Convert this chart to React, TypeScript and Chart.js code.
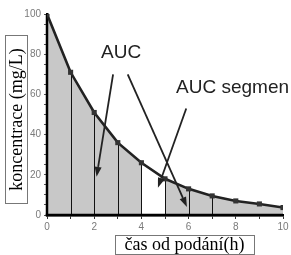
import React, { useEffect, useRef } from "react";
import { Chart, registerables } from "chart.js";

Chart.register(...registerables);

// ---- data ----
const times = [0, 1, 2, 3, 4, 5, 6, 7, 8, 9, 10];
const concentrations = [100, 71, 51, 36, 26, 18, 13, 9.5, 7, 5.5, 3.7];
const shadedRanges = [
  [0, 4],
  [5, 10],
];
const dividerTimes = [1, 2, 3, 4, 5, 6, 7];
const xTickLabels = [0, 2, 4, 6, 8, 10];
const yTickLabels = [0, 20, 40, 60, 80, 100];
const yTitle = "koncentrace (mg/L)";
const xTitle = "čas od podání(h)";
const labelAUC = "AUC";
const labelSegment = "AUC segmen";

const points = times.map((t, i) => ({ x: t, y: concentrations[i] }));
const shadedData = shadedRanges.map(([a, b]) => points.filter((p) => p.x >= a && p.x <= b));

// annotation geometry in data units
const textLabels = [
  { text: labelAUC, x: 3.14, y: 78, align: "center" as CanvasTextAlign },
  { text: labelSegment, x: 5.47, y: 60.7, align: "left" as CanvasTextAlign },
];
const arrows = [
  { from: [2.8, 70], to: [2.1, 19] },
  { from: [3.42, 70], to: [5.93, 4] },
  { from: [5.9, 53], to: [4.7, 13.5] },
];

const annotationPlugin = {
  id: "annotations",
  afterDatasetDraw(chart: any, args: any) {
    if (args.index !== 1) return;
    const { ctx, scales } = chart;
    const xs = scales.x;
    const ys = scales.y;
    ctx.save();
    ctx.strokeStyle = "#111";
    ctx.lineWidth = 1;
    dividerTimes.forEach((t) => {
      const i = times.indexOf(t);
      const px = Math.round(xs.getPixelForValue(t)) + 0.5;
      ctx.beginPath();
      ctx.moveTo(px, ys.getPixelForValue(0));
      ctx.lineTo(px, ys.getPixelForValue(concentrations[i]));
      ctx.stroke();
    });
    // axis lines on top of the fill
    const x0 = xs.getPixelForValue(0);
    const y0 = ys.getPixelForValue(0);
    ctx.strokeStyle = "#000";
    ctx.lineWidth = 2.5;
    ctx.beginPath();
    ctx.moveTo(x0 - 1.25, y0);
    ctx.lineTo(xs.getPixelForValue(10), y0);
    ctx.stroke();
    ctx.beginPath();
    ctx.moveTo(x0, ys.getPixelForValue(100));
    ctx.lineTo(x0, y0 + 1.25);
    ctx.stroke();
    ctx.restore();
  },
  afterDatasetsDraw(chart: any) {
    const { ctx, scales } = chart;
    const xs = scales.x;
    const ys = scales.y;
    ctx.save();
    ctx.fillStyle = "#222";
    ctx.font = '19px "Liberation Sans", Arial, sans-serif';
    ctx.textBaseline = "alphabetic";
    textLabels.forEach((l) => {
      ctx.textAlign = l.align;
      ctx.fillText(l.text, xs.getPixelForValue(l.x), ys.getPixelForValue(l.y));
    });
    ctx.strokeStyle = "#222";
    ctx.lineWidth = 1.8;
    arrows.forEach((a) => {
      const x1 = xs.getPixelForValue(a.from[0]);
      const y1 = ys.getPixelForValue(a.from[1]);
      const x2 = xs.getPixelForValue(a.to[0]);
      const y2 = ys.getPixelForValue(a.to[1]);
      const ang = Math.atan2(y2 - y1, x2 - x1);
      const headLen = 10;
      const headW = 3.5;
      const bx = x2 - headLen * Math.cos(ang);
      const by = y2 - headLen * Math.sin(ang);
      ctx.beginPath();
      ctx.moveTo(x1, y1);
      ctx.lineTo(bx, by);
      ctx.stroke();
      ctx.beginPath();
      ctx.moveTo(x2, y2);
      ctx.lineTo(bx + headW * Math.sin(ang), by - headW * Math.cos(ang));
      ctx.lineTo(bx - headW * Math.sin(ang), by + headW * Math.cos(ang));
      ctx.closePath();
      ctx.fill();
    });
    ctx.restore();
  },
  afterDraw(chart: any) {
    const { ctx } = chart;
    ctx.save();
    ctx.font = '18px "Liberation Serif", "Times New Roman", serif';
    ctx.strokeStyle = "#777";
    ctx.lineWidth = 1;
    // y title box
    ctx.fillStyle = "#fff";
    ctx.fillRect(5, 35, 22, 168);
    ctx.strokeRect(5.5, 35.5, 22, 168);
    ctx.fillStyle = "#000";
    ctx.save();
    ctx.translate(22, 119.5);
    ctx.rotate(-Math.PI / 2);
    ctx.textAlign = "center";
    ctx.textBaseline = "alphabetic";
    ctx.fillText(yTitle, 0, 0);
    ctx.restore();
    // x title box
    ctx.fillStyle = "#fff";
    ctx.fillRect(115, 235, 139, 19);
    ctx.strokeRect(115.5, 235.5, 139, 19);
    ctx.fillStyle = "#000";
    ctx.textAlign = "center";
    ctx.textBaseline = "alphabetic";
    ctx.fillText(xTitle, 184.5, 250);
    ctx.restore();
  },
};

export default function App() {
  const ref = useRef<HTMLCanvasElement | null>(null);
  useEffect(() => {
    if (!ref.current) return;
    const fill = "#c8c8c8";
    const chart = new Chart(ref.current, {
      type: "line",
      data: {
        datasets: [
          {
            data: points,
            borderColor: "#222",
            borderWidth: 2.6,
            pointStyle: "rect",
            pointRadius: 3.6,
            pointBackgroundColor: "#333",
            pointBorderColor: "#333",
            pointBorderWidth: 0,
            fill: false,
            tension: 0,
          },
          ...shadedData.map((d) => ({
            data: d,
            borderWidth: 0,
            borderColor: "rgba(0,0,0,0)",
            backgroundColor: fill,
            pointRadius: 0,
            fill: "origin",
            tension: 0,
          })),
        ],
      },
      options: {
        responsive: false,
        animation: false,
        devicePixelRatio: 1,
        layout: { padding: { top: 14, right: 8, bottom: 0, left: 0 } },
        plugins: { legend: { display: false }, tooltip: { enabled: false } },
        scales: {
          x: {
            type: "linear",
            min: 0,
            max: 10,
            afterFit: (s: any) => {
              s.height = 40;
            },
            border: { display: true, color: "#000", width: 2.5 },
            grid: { display: true, drawOnChartArea: false, drawTicks: true, tickLength: 4, color: "#333" },
            ticks: {
              stepSize: 1,
              autoSkip: false,
              maxRotation: 0,
              padding: 2,
              color: "#7a7a7a",
              font: { size: 10, family: '"Liberation Sans", Arial, sans-serif' },
              callback: (v: any) => (xTickLabels.includes(Number(v)) ? String(v) : ""),
            },
          },
          y: {
            type: "linear",
            min: 0,
            max: 100,
            afterFit: (s: any) => {
              s.width = 47;
            },
            border: { display: true, color: "#000", width: 2.5 },
            grid: { display: true, drawOnChartArea: false, drawTicks: true, tickLength: 3, color: "#555" },
            ticks: {
              stepSize: 5,
              autoSkip: false,
              padding: 3,
              color: "#7a7a7a",
              font: { size: 10, family: '"Liberation Sans", Arial, sans-serif' },
              callback: (v: any) => (yTickLabels.includes(Number(v)) ? String(v) : ""),
            },
          },
        },
      },
      plugins: [annotationPlugin],
    } as any);
    return () => chart.destroy();
  }, []);
  return (
    <div style={{ position: "absolute", left: 0, top: 0, width: 291, height: 255, background: "#fff" }}>
      <canvas ref={ref} width={291} height={255} style={{ display: "block", width: 291, height: 255 }} />
    </div>
  );
}
